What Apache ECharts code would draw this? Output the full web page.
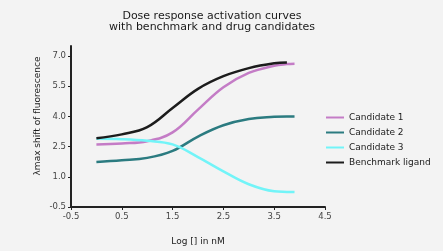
<!DOCTYPE html>
<html>
<head>
<meta charset="utf-8">
<script src="https://cdn.jsdelivr.net/npm/echarts@6/dist/echarts.min.js"></script>
<style>
  html, body { margin: 0; padding: 0; background: #f3f3f3; }
  #chart { width: 443px; height: 251px; }
</style>
</head>
<body>
<div id="chart"></div>
<script>
// log concentration samples
const logConc = [0, 0.5, 1, 1.5, 2, 2.5, 3, 3.5, 3.75, 3.9];

// λmax shift per series
const candidate1 = [2.61, 2.66, 2.77, 3.21, 4.34, 5.45, 6.16, 6.52, 6.6, 6.62];
const candidate2 = [1.74, 1.82, 1.94, 2.29, 3.0, 3.56, 3.87, 3.98, 4.0, 4.0];
const candidate3 = [2.89, 2.87, 2.79, 2.61, 1.98, 1.27, 0.63, 0.28, 0.25, 0.24];
const benchmark = [2.92, 3.11, 3.47, 4.42, 5.37, 6.0, 6.4, 6.64, 6.68];

const yTicks = [-0.5, 1.0, 2.5, 4.0, 5.5, 7.0];

const pairs = (ys) => ys.map((y, i) => [logConc[i], y]);

const chart = echarts.init(document.getElementById('chart'));
const font = 'DejaVu Sans, sans-serif';

const mkSeries = (name, data, color) => ({
  name,
  type: 'line',
  data: pairs(data),
  smooth: 0.4,
  showSymbol: false,
  lineStyle: { color, width: 2.5 },
  itemStyle: { color }
});

chart.setOption({
  backgroundColor: '#f3f3f3',
  animation: false,
  title: {
    text: 'Dose response activation curves\nwith benchmark and drug candidates',
    left: 207,
    textAlign: 'center',
    top: 6,
    textStyle: { fontFamily: font, fontSize: 11, fontWeight: 500, color: '#1a1a1a', lineHeight: 11 }
  },
  legend: {
    orient: 'vertical',
    left: 321,
    top: 108,
    itemWidth: 18,
    itemHeight: 10,
    itemGap: 6,
    icon: 'path://M0,4 L18,4 L18,6 L0,6 Z',
    textStyle: { fontFamily: font, fontSize: 9, fontWeight: 500, color: '#1a1a1a' },
    data: ['Candidate 1', 'Candidate 2', 'Candidate 3', 'Benchmark ligand']
  },
  grid: { left: 71, right: 118, top: 46, bottom: 35 },
  xAxis: {
    type: 'value',
    min: -0.5,
    max: 4.5,
    interval: 1,
    name: 'Log [] in nM',
    nameLocation: 'middle',
    nameGap: 30,
    nameTextStyle: { fontFamily: font, fontSize: 9, fontWeight: 500, color: '#1a1a1a' },
    axisLine: { show: true, onZero: false, lineStyle: { color: '#222', width: 2 } },
    axisTick: { show: true, length: 3, lineStyle: { color: '#222' } },
    axisLabel: { fontFamily: font, fontSize: 8.5, color: '#444', margin: 5, formatter: v => v.toFixed(1) },
    splitLine: { show: false }
  },
  yAxis: {
    type: 'value',
    min: -0.5,
    max: 7.5,
    axisLine: { show: true, onZero: false, lineStyle: { color: '#222', width: 2 } },
    axisTick: { show: true, length: 3, customValues: yTicks, lineStyle: { color: '#222' } },
    axisLabel: { fontFamily: font, fontSize: 8.5, color: '#444', margin: 5, customValues: yTicks, formatter: v => v.toFixed(1) },
    splitLine: { show: false }
  },
  graphic: [{
    type: 'text',
    x: 38,
    y: 116,
    rotation: Math.PI / 2,
    style: {
      text: 'λmax shift of fluorescence',
      fontFamily: font,
      fontSize: 9,
      fontWeight: 500,
      fill: '#1a1a1a',
      align: 'center',
      verticalAlign: 'middle'
    }
  }],
  series: [
    mkSeries('Candidate 1', candidate1, '#c47cc6'),
    mkSeries('Candidate 2', candidate2, '#2b7b80'),
    mkSeries('Candidate 3', candidate3, '#72f4f8'),
    mkSeries('Benchmark ligand', benchmark, '#1c1c1c')
  ]
});
</script>
</body>
</html>
